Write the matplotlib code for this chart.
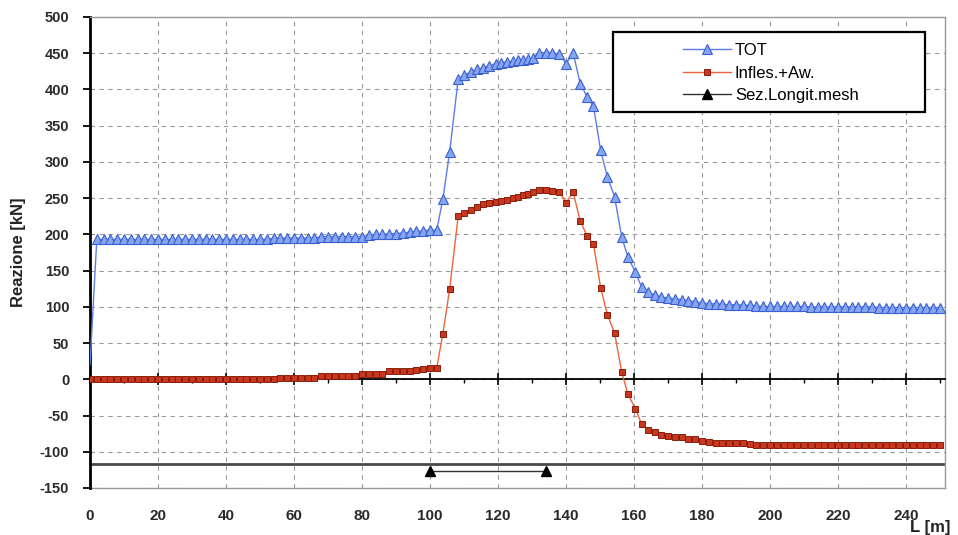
import matplotlib
matplotlib.use('Agg')
import matplotlib.pyplot as plt
from matplotlib.patches import Rectangle
from matplotlib.ticker import MultipleLocator

plt.rcParams['font.family'] = ['Liberation Sans', 'DejaVu Sans']
plt.rcParams['axes.unicode_minus'] = False

# ---- data ----
L = [0, 2, 4, 6, 8, 10, 12, 14, 16, 18, 20, 22, 24, 26, 28, 30, 32, 34, 36, 38,
     40, 42, 44, 46, 48, 50, 52, 54, 56, 58, 60, 62, 64, 66, 68, 70, 72, 74, 76, 78,
     80, 82, 84, 86, 88, 90, 92, 94, 96, 98, 100,
     102, 103.8, 105.8, 108.3, 110, 112, 113.9, 115.7, 117.5, 119.4, 121, 122.8,
     124.4, 125.8, 127.4, 128.8, 130.4, 132.2, 134, 135.8, 138, 140.1, 142.1, 144.2,
     146.2, 148.1, 150.2, 152.2, 154.3, 156.4, 158.2, 160.4, 162.3, 164.2, 166.2, 168.1,
     170, 172, 174, 176, 178, 180, 182, 184, 186, 188, 190, 192, 194, 196, 198, 200,
     202, 204, 206, 208, 210, 212, 214, 216, 218, 220, 222, 224, 226, 228, 230, 232,
     234, 236, 238, 240, 242, 244, 246, 248, 250]

tot = [20, 193, 193, 193, 193, 193, 193, 193, 193, 193, 193, 193, 193, 193, 193, 193,
       193, 193, 193, 193, 193, 193, 193, 193, 193, 193, 193,
       195, 195, 195, 195, 195, 195, 195,
       197, 197, 197, 197, 197, 197, 197,
       199, 200, 200, 201, 201,
       202, 203, 204, 205, 206,
       206, 249, 314, 414, 419.5, 424, 427.6, 430, 433, 435.7, 437, 438, 439, 440,
       440.5, 441.5, 444, 450.6, 451, 451, 448.5, 435.6, 450.6, 408, 390, 376.8, 316,
       279, 252, 196.5, 169, 148, 127, 120.4, 116, 113.6,
       112, 111, 110, 108.5, 107, 105.5, 104.5, 104, 103.5, 103, 103, 102.5, 102, 101,
       100.5, 100.5, 100.5, 100.5, 100.5, 100.5, 100.5,
       100, 100, 100, 100, 100, 100, 100, 100, 100, 100,
       99, 99, 99, 99, 99, 99, 99, 99, 99, 99]

infl = [0, 0, 0, 0, 0, 0, 0, 0, 0, 0, 0, 0, 0, 0, 0, 0, 0, 0, 0, 0,
        0, 0, 0, 0, 0, 0, 0, 0,
        2, 2, 2, 2, 2, 2,
        5, 5, 5, 5, 5, 5,
        8, 8, 8, 8,
        11, 11, 11, 11,
        13, 14, 15,
        16, 63, 125, 225, 229.6, 233, 238, 241.5, 243.5, 245, 246, 248, 250, 251.5,
        254, 256, 258, 261.5, 261.5, 260, 258.5, 244, 258.5, 218.5, 198, 186.5, 126.5,
        89, 64, 10, -20, -40.5, -62, -69.5, -72.7, -77,
        -78.7, -79.5, -80, -82, -83, -85, -87, -87.5, -88, -88, -88, -88.5, -89,
        -90, -90, -90, -90, -90, -90, -90, -90, -90, -90, -90, -90, -90, -90,
        -90, -90, -90, -90, -90, -90, -90, -90, -90, -90, -90, -90.5, -90.5, -90.5]

mesh_x = [100, 134]
mesh_y = [-126, -126]
mesh_ref = -117

xticks = [0, 20, 40, 60, 80, 100, 120, 140, 160, 180, 200, 220, 240]
yticks = [-150, -100, -50, 0, 50, 100, 150, 200, 250, 300, 350, 400, 450, 500]

# ---- figure ----
W, H = 958, 535
fig = plt.figure(figsize=(W / 100, H / 100), dpi=100)
ax = fig.add_axes([90 / W, 1 - 488 / H, 855 / W, 471 / H])

ax.set_xlim(0, 251.5)
ax.set_ylim(-150, 500)

ax.grid(True, color='#9a9a9a', linestyle=(0, (4, 4)), linewidth=0.8)
ax.set_axisbelow(True)

ax.axhline(mesh_ref, color='#4a4a4a', lw=2.0, zorder=2)

ax.plot(L, tot, color='#5b7fe6', lw=1.0, marker='^', markersize=6.5,
        markerfacecolor='#86a6f2', markeredgecolor='#3b5fd0', markeredgewidth=0.8,
        markevery=slice(1, None), label='TOT', zorder=3)
ax.plot(L, infl, color='#f0643a', lw=1.0, marker='s', markersize=5,
        markerfacecolor='#c8381e', markeredgecolor='#8a1c0a', markeredgewidth=0.7,
        label='Infles.+Aw.', zorder=3)
ax.plot(mesh_x, mesh_y, color='#333333', lw=1.0, marker='^', markersize=6.5,
        markerfacecolor='black', markeredgecolor='black', label='Sez.Longit.mesh',
        zorder=3)

# spines
ax.spines['left'].set_color('black')
ax.spines['left'].set_linewidth(2.0)
ax.spines['top'].set_color('#999999')
ax.spines['right'].set_color('#999999')
ax.spines['top'].set_linewidth(1.0)
ax.spines['right'].set_linewidth(1.0)
ax.spines['bottom'].set_position(('data', 0))
ax.spines['bottom'].set_color('black')
ax.spines['bottom'].set_linewidth(1.3)

ax.set_xticks(xticks)
ax.xaxis.set_minor_locator(MultipleLocator(10))
ax.tick_params(axis='x', which='major', direction='inout', length=8, width=1.2,
               color='black', labelbottom=False)
ax.tick_params(axis='x', which='minor', direction='out', length=3, width=1.0,
               color='black')

ax.set_yticks(yticks)
ax.tick_params(axis='y', which='major', direction='out', length=5, width=1.3,
               color='black', pad=10, labelsize=10.5, labelcolor='#2a2a2a')
for t in ax.get_yticklabels():
    t.set_fontweight('bold')

sec = ax.secondary_xaxis('bottom')
sec.set_xticks(xticks)
sec.tick_params(axis='x', length=0, pad=15, labelsize=11, labelcolor='#2a2a2a')
for t in sec.get_xticklabels():
    t.set_fontweight('bold')
sec.spines['bottom'].set_color('#999999')
sec.spines['bottom'].set_linewidth(1.0)

ax.set_ylabel('Reazione [kN]', fontsize=12, fontweight='bold', color='#222222',
              labelpad=10)
fig.text(910 / W, 1 - 532 / H, 'L [m]', fontsize=12, fontweight='bold',
         color='#222222', ha='left', va='baseline')

# legend box
ax.add_patch(Rectangle((0.612, 0.798), 0.365, 0.170, transform=ax.transAxes,
                       facecolor='white', edgecolor='black', lw=1.6, zorder=5))
leg = ax.legend(loc='upper left', bbox_to_anchor=(0.684, 0.962), frameon=False,
                prop={'size': 12}, handlelength=2.85, handletextpad=0.25,
                labelspacing=0.45, borderpad=0)
leg.set_zorder(6)

fig.savefig('out.png', dpi=100)
